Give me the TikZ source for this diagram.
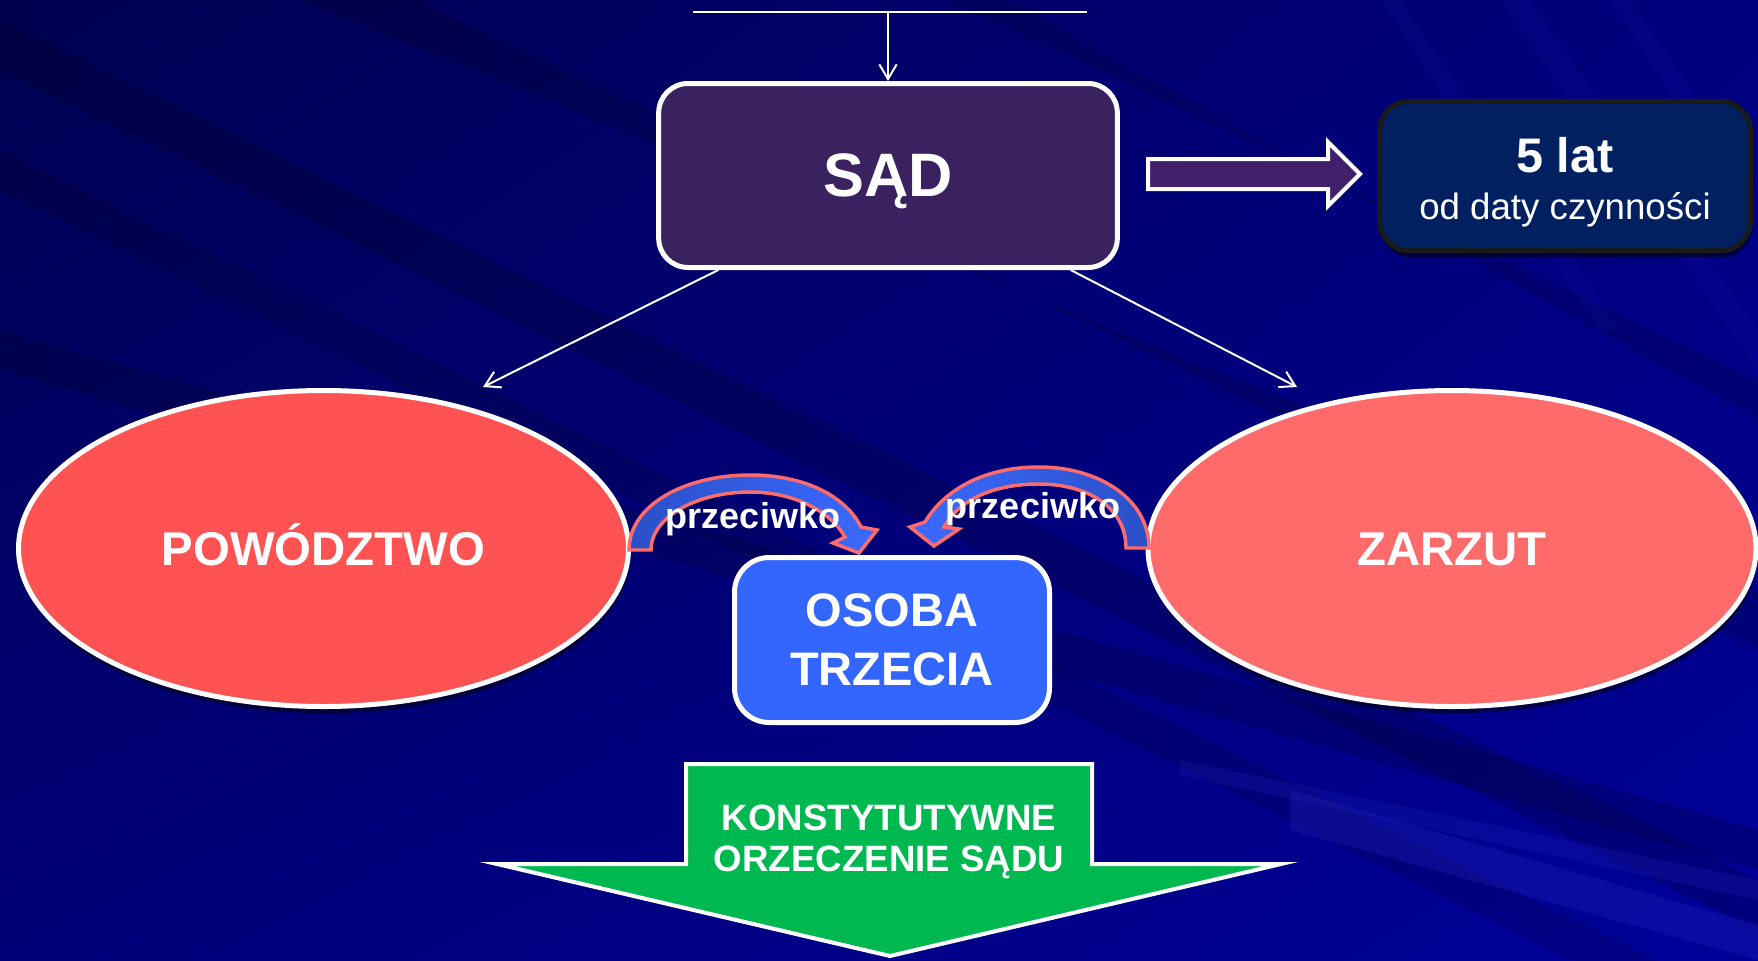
\documentclass[tikz,border=0pt]{standalone}
\usepackage{fontspec}
\setmainfont{Liberation Sans}
\usetikzlibrary{shapes.geometric,arrows.meta,calc,shadows,shadings}
\definecolor{bgUL}{HTML}{000050}
\definecolor{bgUR}{HTML}{00007E}
\definecolor{bgLL}{HTML}{000078}
\definecolor{bgLR}{HTML}{000098}
\definecolor{sadfill}{HTML}{3A2260}
\definecolor{arrfill}{HTML}{40206A}
\definecolor{latfill}{HTML}{002060}
\definecolor{latline}{HTML}{1A1A1A}
\definecolor{powfill}{HTML}{FF5252}
\definecolor{zarfill}{HTML}{FF6A6A}
\definecolor{osofill}{HTML}{3366FF}
\definecolor{greenfill}{HTML}{00B850}
\definecolor{curvedark}{HTML}{2A4FC8}
\definecolor{curvelight}{HTML}{3A6AFF}
\definecolor{salmon}{HTML}{FF6A6A}
\definecolor{streak}{HTML}{2020B8}
\begin{document}
\begin{tikzpicture}[x=0.75pt,y=-0.75pt,
  conn/.style={white, line width=1.5pt},
  arr/.style={conn, -{Straight Barb[length=11pt,width=13pt,line width=1.5pt]}},
  box/.style={draw=white, line width=3.75pt, rounded corners=22pt, inner sep=0pt},
  shad/.style={drop shadow={shadow xshift=1pt, shadow yshift=-5pt, opacity=.5, fill=black}},
  oval/.style={ellipse, draw=white, line width=3.75pt, inner sep=0pt, text=white,
    font=\bfseries\fontsize{35.5}{40}\selectfont, text height=25.5pt, text depth=0pt, shad},
  lbl/.style={anchor=base, text=white, font=\bfseries\fontsize{27}{30}\selectfont},
  curved/.style={draw=salmon, line width=2.6pt, line join=miter}
]
\useasboundingbox (0,0) rectangle (1758,960);
% background
\shade[upper left=bgUL, upper right=bgUR, lower left=bgLL, lower right=bgLR] (0,0) rectangle (1758,960);
\fill[black, opacity=.16] (0,20) -- (0,70) -- (1758,930) -- (1758,880) -- cycle;
\fill[black, opacity=.12] (0,150) -- (0,190) -- (1758,1050) -- (1758,1010) -- cycle;
\fill[black, opacity=.14] (300,0) -- (420,0) -- (1758,650) -- (1758,590) -- cycle;
\fill[black, opacity=.12] (950,0) -- (1010,0) -- (1758,420) -- (1758,380) -- cycle;
\fill[black, opacity=.15] (0,330) -- (0,370) -- (1758,870) -- (1758,830) -- cycle;
\fill[streak, opacity=.35] (1290,790) -- (1758,925) -- (1758,960) -- (1290,830) -- cycle;
\fill[streak, opacity=.25] (1180,760) -- (1758,880) -- (1758,900) -- (1180,775) -- cycle;
\fill[streak, opacity=.12] (1500,0) -- (1530,0) -- (1758,330) -- (1758,370) -- cycle;
\fill[streak, opacity=.12] (1610,0) -- (1630,0) -- (1758,190) -- (1758,225) -- cycle;
\fill[streak, opacity=.10] (1380,0) -- (1400,0) -- (1620,330) -- (1600,330) -- cycle;

% top connector
\coordinate (tl) at (693,12);
\coordinate (tr) at (1087,12);
\coordinate (tm) at (888,12);
\draw[conn] (tl) -- (tr);

% SAD box
\node[box, fill=sadfill, minimum width=344pt, minimum height=138pt, text=white,
  font=\bfseries\fontsize{46}{50}\selectfont, text depth=0pt] (sad) at (888,175.5) {SĄD};
\draw[arr] (tm) -- (sad.north);

% block arrow to 5 lat
\draw[white, line width=3pt, fill=arrfill, line join=miter]
  (1148,159) -- (1328,159) -- (1328,142) -- (1360,174) -- (1328,206) -- (1328,189) -- (1148,189) -- cycle;

% 5 lat box
\node[draw=latline, line width=3.75pt, rounded corners=22pt, fill=latfill,
  minimum width=278pt, minimum height=112pt, inner sep=0pt, shad] (lat) at (1565,176) {};
\node[anchor=base, text=white, font=\bfseries\fontsize{36.4}{40}\selectfont] (lat1) at (1565,172) {5 lat};
\node[anchor=base, text=white, font=\fontsize{27.5}{30}\selectfont] (lat2) at (1565,219) {od daty czynności};

% ellipses
\node[oval, fill=powfill, minimum width=457.5pt, minimum height=237pt] (pow) at (323.5,548.5) {POWÓDZTWO};
\node[oval, fill=zarfill, minimum width=456pt, minimum height=237pt] (zar) at (1452,548.5) {ZARZUT};

% connectors from SAD
\coordinate (pl) at (483,387);
\coordinate (pr) at (1297,387);
\draw[arr] ($(sad.south west)!0.134!(sad.south east)$) -- (pl);
\draw[arr] ($(sad.south west)!0.894!(sad.south east)$) -- (pr);

% OSOBA TRZECIA
\node[box, rounded corners=26pt, fill=osofill, minimum width=236.25pt, minimum height=123.75pt,
  text=white, align=center, font=\bfseries\fontsize{35.25}{44.25}\selectfont] (oso) at (892,640) {OSOBA\\TRZECIA};

% curved arrows
\shade[curved, left color=curvedark, right color=curvelight]
  (629,550) .. controls (629,505) and (685,475) .. (750,475)
  .. controls (806,475) and (846,497) .. (861,527)
  -- (877,530) -- (859,553) -- (833,543) -- (845,537)
  .. controls (831,512) and (795,492) .. (750,492)
  .. controls (697,492) and (651,517) .. (651,550) -- cycle;
\shade[curved, left color=curvelight, right color=curvedark]
  (1149,548) .. controls (1149,500) and (1100,467) .. (1039,467)
  .. controls (984,467) and (944,490) .. (925,522)
  -- (910,527) -- (934,546) -- (959,529) -- (944,527)
  .. controls (959,500) and (993,484) .. (1039,484)
  .. controls (1087,484) and (1126,507) .. (1126,548) -- cycle;
\node[lbl] (p1) at (753,528) {przeciwko};
\node[lbl] (p2) at (1033,518) {przeciwko};

% green arrow
\draw[white, line width=3pt, fill=greenfill, line join=miter]
  (686,764) -- (1092,764) -- (1092,864) -- (1281,864) -- (890,956) -- (497,864) -- (686,864) -- cycle;
\node[text=white, align=center, font=\bfseries\fontsize{27.5}{30.75}\selectfont] (orz) at (889,841.5)
  {KONSTYTUTYWNE\\ORZECZENIE SĄDU};
\end{tikzpicture}
\end{document}
